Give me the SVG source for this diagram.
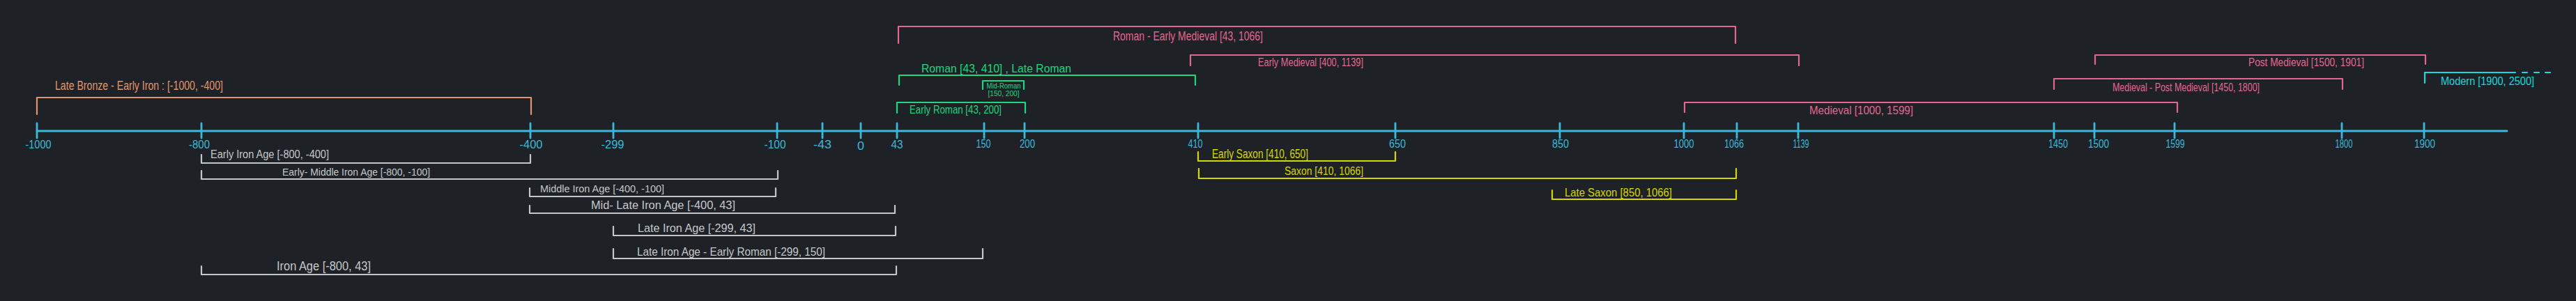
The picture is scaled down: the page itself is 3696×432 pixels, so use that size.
<svg xmlns="http://www.w3.org/2000/svg" width="3696" height="432" viewBox="0 0 3696 432">
<style>
  .br { fill: none; stroke-width: 2.2; stroke-linecap: round; stroke-linejoin: round; }
  .t { font-family: "Liberation Sans", "Noto Sans", sans-serif; }
  .orange { stroke: #e0956c; } .torange { fill: #e0956c; }
  .pink { stroke: #e4668f; } .tpink { fill: #e4668f; }
  .green { stroke: #1fd67c; } .tgreen { fill: #1fd67c; }
  .grey { stroke: #c4c7ca; } .tgrey { fill: #c4c7ca; }
  .yellow { stroke: #d6d600; } .tyellow { fill: #d6d600; }
  .cyan { stroke: #1ad9d9; } .tcyan { fill: #1ad9d9; }
  .axis { stroke: #3cb8da; stroke-width: 2.8; fill: none; stroke-linecap: round; }
  .tick { font-family: "Liberation Sans", "Noto Sans", sans-serif; font-size: 16px; fill: #3cb8da; text-anchor: middle; }
</style>
<rect x="0" y="0" width="3696" height="432" fill="#1e2227"/>

<g id="connectors">
  <g id="axis">
    <path class="axis" d="M53 188 L3597 188"/>
    <path class="axis" d="M53 177 V198 M289 177 V198 M761 177 V198 M880 177 V198 M1115 177 V198 M1180 177 V198 M1235 177 V198 M1287 177 V198 M1412 177 V198 M1470 177 V198 M1719 177 V198 M2002 177 V198 M2238 177 V198 M2416 177 V198 M2492 177 V198 M2580 177 V198 M2947 177 V198 M3005 177 V198 M3120 177 V198 M3360 177 V198 M3478 177 V198"/>
    <text class="tick" x="55" y="213" textLength="37" lengthAdjust="spacingAndGlyphs">-1000</text>
    <text class="tick" x="286" y="213" textLength="30" lengthAdjust="spacingAndGlyphs">-800</text>
    <text class="tick" x="762" y="213" textLength="33" lengthAdjust="spacingAndGlyphs">-400</text>
    <text class="tick" x="879" y="213" textLength="33" lengthAdjust="spacingAndGlyphs">-299</text>
    <text class="tick" x="1112" y="213" textLength="31" lengthAdjust="spacingAndGlyphs">-100</text>
    <text class="tick" x="1180" y="213" textLength="26" lengthAdjust="spacingAndGlyphs">-43</text>
    <text class="tick" x="1235" y="215" textLength="10" lengthAdjust="spacingAndGlyphs">0</text>
    <text class="tick" x="1287" y="213" textLength="17" lengthAdjust="spacingAndGlyphs">43</text>
    <text class="tick" x="1411" y="212" textLength="21" lengthAdjust="spacingAndGlyphs">150</text>
    <text class="tick" x="1474" y="212" textLength="22" lengthAdjust="spacingAndGlyphs">200</text>
    <text class="tick" x="1715" y="212" textLength="21" lengthAdjust="spacingAndGlyphs">410</text>
    <text class="tick" x="2005" y="212" textLength="24" lengthAdjust="spacingAndGlyphs">650</text>
    <text class="tick" x="2239" y="212" textLength="24" lengthAdjust="spacingAndGlyphs">850</text>
    <text class="tick" x="2416" y="212" textLength="29" lengthAdjust="spacingAndGlyphs">1000</text>
    <text class="tick" x="2488" y="212" textLength="28" lengthAdjust="spacingAndGlyphs">1066</text>
    <text class="tick" x="2584" y="212" textLength="23" lengthAdjust="spacingAndGlyphs">1139</text>
    <text class="tick" x="2953" y="212" textLength="28" lengthAdjust="spacingAndGlyphs">1450</text>
    <text class="tick" x="3011" y="212" textLength="30" lengthAdjust="spacingAndGlyphs">1500</text>
    <text class="tick" x="3121" y="212" textLength="27" lengthAdjust="spacingAndGlyphs">1599</text>
    <text class="tick" x="3363" y="212" textLength="25" lengthAdjust="spacingAndGlyphs">1800</text>
    <text class="tick" x="3479" y="212" textLength="30" lengthAdjust="spacingAndGlyphs">1900</text>
  </g>
</g>

<g id="late-bronze-early-iron">
  <path class="br orange" d="M53 164 V140 H762 V164"/>
  <text class="t torange" x="79" y="129" font-size="18" textLength="241" lengthAdjust="spacingAndGlyphs">Late Bronze - Early Iron : [-1000, -400]</text>
</g>

<g id="roman-early-medieval">
  <path class="br pink" d="M1289 62 V38 H2490 V62"/>
  <text class="t tpink" x="1597" y="58" font-size="18" textLength="215" lengthAdjust="spacingAndGlyphs">Roman - Early Medieval [43, 1066]</text>
</g>

<g id="early-medieval">
  <path class="br pink" d="M1708 94 V79 H2581 V94"/>
  <text class="t tpink" x="1805" y="95" font-size="16" textLength="151" lengthAdjust="spacingAndGlyphs">Early Medieval [400, 1139]</text>
</g>

<g id="roman">
  <path class="br green" d="M1290 122 V108 H1715 V122"/>
  <text class="t tgreen" x="1322" y="104" font-size="17" textLength="215" lengthAdjust="spacingAndGlyphs">Roman [43, 410] , Late Roman</text>
</g>

<g id="mid-roman">
  <path class="br green" d="M1410 128 V116 H1469 V128"/>
  <text class="t tgreen" x="1440" y="127" font-size="11" text-anchor="middle" textLength="49" lengthAdjust="spacingAndGlyphs">Mid-Roman</text>
  <text class="t tgreen" x="1440" y="138" font-size="10" text-anchor="middle" textLength="45" lengthAdjust="spacingAndGlyphs">[150, 200]</text>
</g>

<g id="early-roman">
  <path class="br green" d="M1287 162 V147 H1471 V162"/>
  <text class="t tgreen" x="1305" y="163" font-size="17" textLength="132" lengthAdjust="spacingAndGlyphs">Early Roman [43, 200]</text>
</g>

<g id="medieval">
  <path class="br pink" d="M2417 161 V147 H3124 V161"/>
  <text class="t tpink" x="2596" y="164" font-size="16" textLength="149" lengthAdjust="spacingAndGlyphs">Medieval [1000, 1599]</text>
</g>

<g id="medieval-post-medieval">
  <path class="br pink" d="M2947 128 V113 H3361 V128"/>
  <text class="t tpink" x="3031" y="131" font-size="16" textLength="211" lengthAdjust="spacingAndGlyphs">Medieval - Post Medieval [1450, 1800]</text>
</g>

<g id="post-medieval">
  <path class="br pink" d="M3006 92 V79 H3480 V92"/>
  <text class="t tpink" x="3226" y="95" font-size="16" textLength="166" lengthAdjust="spacingAndGlyphs">Post Medieval [1500, 1901]</text>
</g>

<g id="modern">
  <path class="br cyan" d="M3479 119 V104 H3609"/>
  <path class="br cyan" d="M3619 104 H3626 M3636 104 H3643 M3652 104 H3659"/>
  <text class="t tcyan" x="3502" y="122" font-size="17" textLength="134" lengthAdjust="spacingAndGlyphs">Modern [1900, 2500]</text>
</g>

<g id="early-iron-age">
  <path class="br grey" d="M289 222 V234 H761 V222"/>
  <text class="t tgrey" x="302" y="227" font-size="16" textLength="170" lengthAdjust="spacingAndGlyphs">Early Iron Age [-800, -400]</text>
</g>

<g id="early-middle-iron-age">
  <path class="br grey" d="M289 245 V257 H1116 V245"/>
  <text class="t tgrey" x="405" y="252" font-size="15" textLength="212" lengthAdjust="spacingAndGlyphs">Early- Middle Iron Age [-800, -100]</text>
</g>

<g id="middle-iron-age">
  <path class="br grey" d="M760 270 V282 H1113 V270"/>
  <text class="t tgrey" x="775" y="276" font-size="14" textLength="178" lengthAdjust="spacingAndGlyphs">Middle Iron Age [-400, -100]</text>
</g>

<g id="mid-late-iron-age">
  <path class="br grey" d="M760 295 V306 H1284 V295"/>
  <text class="t tgrey" x="848" y="300" font-size="16" textLength="207" lengthAdjust="spacingAndGlyphs">Mid- Late Iron Age  [-400, 43]</text>
</g>

<g id="late-iron-age">
  <path class="br grey" d="M880 325 V338 H1285 V325"/>
  <text class="t tgrey" x="915" y="333" font-size="17" textLength="169" lengthAdjust="spacingAndGlyphs">Late Iron Age [-299, 43]</text>
</g>

<g id="late-iron-age-early-roman">
  <path class="br grey" d="M880 357 V371 H1410 V357"/>
  <text class="t tgrey" x="914" y="367" font-size="17" textLength="270" lengthAdjust="spacingAndGlyphs">Late Iron Age - Early Roman [-299, 150]</text>
</g>

<g id="iron-age">
  <path class="br grey" d="M289 382 V394 H1286 V382"/>
  <text class="t tgrey" x="397" y="388" font-size="18" textLength="135" lengthAdjust="spacingAndGlyphs">Iron Age [-800, 43]</text>
</g>

<g id="early-saxon">
  <path class="br yellow" d="M1719 218 V231 H2002 V218"/>
  <text class="t tyellow" x="1739" y="227" font-size="18" textLength="138" lengthAdjust="spacingAndGlyphs">Early Saxon [410, 650]</text>
</g>

<g id="saxon">
  <path class="br yellow" d="M1720 242 V256 H2491 V242"/>
  <text class="t tyellow" x="1843" y="251" font-size="16" textLength="113" lengthAdjust="spacingAndGlyphs">Saxon [410, 1066]</text>
</g>

<g id="late-saxon">
  <path class="br yellow" d="M2227 273 V286 H2491 V273"/>
  <text class="t tyellow" x="2245" y="282" font-size="17" textLength="154" lengthAdjust="spacingAndGlyphs">Late Saxon [850, 1066]</text>
</g>
</svg>
